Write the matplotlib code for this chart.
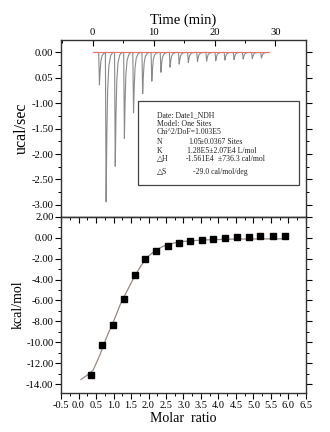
import matplotlib.pyplot as plt
import numpy as np
from matplotlib.ticker import MultipleLocator

plt.rcParams['font.family'] = ['Liberation Serif', 'DejaVu Sans']

# raw thermogram: injection peaks (time of minimum, depth in ucal/sec)
peak_times = [1.1, 2.2, 3.7, 5.2, 6.7, 8.2, 9.7, 11.2, 12.7, 14.2,
              15.7, 17.2, 18.7, 20.2, 21.7, 23.2, 24.7, 26.2, 27.7]
peak_depths = [0.64, 2.94, 2.24, 1.69, 1.19, 0.81, 0.565, 0.39, 0.29, 0.23,
               0.20, 0.18, 0.17, 0.16, 0.15, 0.14, 0.13, 0.12, 0.11]
# peak shape (offset in min, fraction of depth)
shape_dt = [-0.12, 0.0, 0.12, 0.25, 0.45, 0.75, 1.1]
shape_frac = [0.0, 1.0, 0.55, 0.25, 0.09, 0.02, 0.0]
baseline_t = [0.0, 28.9]

# integrated heats
molar = [0.36, 0.67, 0.98, 1.29, 1.60, 1.91, 2.22, 2.55, 2.87, 3.19,
         3.52, 3.85, 4.19, 4.53, 4.86, 5.20, 5.55, 5.90]
heat = [-13.14, -10.25, -8.38, -5.87, -3.59, -2.06, -1.27, -0.76, -0.48, -0.29,
        -0.19, -0.13, -0.03, 0.03, 0.06, 0.13, 0.19, 0.19]
fit_x = [0.07, 0.25, 0.42, 0.61, 0.81, 1.0, 1.19, 1.38, 1.6, 1.8,
         2.0, 2.2, 2.4, 2.6, 2.9, 3.5, 4.4, 5.9]
fit_y = [-13.56, -13.15, -12.66, -11.22, -9.46, -8.02, -6.41, -5.13, -3.7, -2.6,
         -1.75, -1.2, -0.85, -0.6, -0.38, -0.22, -0.13, -0.1]

top_ticks = [0.0, -0.5, -1.0, -1.5, -2.0, -2.5, -3.0]
top_labels = ['0.00', '0.05', '-1.00', '-1.50', '-2.00', '-2.50', '-3.00']

fig = plt.figure(figsize=(3.3, 4.32), dpi=100)
ax1 = fig.add_axes([0.185, 0.498, 0.742, 0.409])
ax2 = fig.add_axes([0.185, 0.090, 0.742, 0.408])

# build the trace from the peak list
t = [0.5]
y = [0.0]
for pt, pd in zip(peak_times, peak_depths):
    for dt, fr in zip(shape_dt, shape_frac):
        t.append(pt + dt)
        y.append(-pd * fr)
t.append(28.9)
y.append(0.0)
ax1.plot(t, y, color='#8a8a8a', lw=0.8)
ax1.plot(baseline_t, [0, 0], color='#e8706a', lw=0.8)

ax1.set_xlim(-5.2, 35)
ax1.set_ylim(-3.236, 0.242)
ax1.xaxis.tick_top()
ax1.xaxis.set_label_position('top')
ax1.set_xticks([0, 10, 20, 30])
ax1.xaxis.set_minor_locator(MultipleLocator(5))
ax1.set_xlabel('Time (min)', fontsize=10.5, labelpad=3)
ax1.set_yticks(top_ticks)
ax1.set_yticklabels(top_labels)
ax1.yaxis.set_minor_locator(MultipleLocator(0.25))
ax1.set_ylabel('ucal/sec', fontsize=11.5, labelpad=1)
ax1.tick_params(axis='x', which='both', direction='in', top=True, bottom=False,
                labelsize=7.7, pad=2)
ax1.tick_params(axis='y', which='both', direction='out', left=True, right=True,
                labelsize=7.7, pad=1.5)
ax1.tick_params(which='major', length=4, width=0.8)
ax1.tick_params(which='minor', length=2.5, width=0.7)

# fit parameters box
box = plt.Rectangle((0.313, 0.183), 0.66, 0.472, transform=ax1.transAxes,
                    fill=False, edgecolor='#444444', lw=0.9)
ax1.add_patch(box)
fs = 5.6
rows = [
    (0.576, [(0.391, 'Date: Date1_NDH')]),
    (0.525, [(0.391, 'Model: One Sites')]),
    (0.481, [(0.391, 'Chi^2/DoF=1.003E5')]),
    (0.421, [(0.391, 'N'), (0.518, '1.05'), (0.567, '±0.0367 Sites')]),
    (0.374, [(0.391, 'K'), (0.515, '1.28E5±2.07E4 L/mol')]),
    (0.325, [(0.391, '△H'), (0.508, '-1.561E4'), (0.641, '±736.3 cal/mol')]),
    (0.253, [(0.391, '△S'), (0.538, '-29.0 cal/mol/deg')]),
]
for yy, items in rows:
    for xx, s in items:
        ax1.text(xx, yy, s, transform=ax1.transAxes, fontsize=fs,
                 va='center', ha='left', color='#222222')

# integrated heat panel
ax2.plot(fit_x, fit_y, color='#9a8880', lw=0.9)
ax2.plot(molar, heat, 's', color='black', markersize=5)
ax2.set_xlim(-0.5, 6.5)
ax2.set_ylim(-14.87, 2.0)
ax2.set_xticks(np.arange(-0.5, 6.51, 0.5))
ax2.set_xticklabels(['%.1f' % v for v in np.arange(-0.5, 6.51, 0.5)])
ax2.xaxis.set_minor_locator(MultipleLocator(0.25))
ax2.set_yticks(np.arange(2, -14.1, -2))
ax2.set_yticklabels(['%.2f' % v for v in np.arange(2, -14.1, -2)])
ax2.yaxis.set_minor_locator(MultipleLocator(1))
ax2.set_xlabel('Molar  ratio', fontsize=10, labelpad=1)
ax2.set_ylabel('kcal/mol', fontsize=10, labelpad=1)
ax2.tick_params(axis='x', which='both', direction='out', bottom=True, top=False,
                labelsize=7.5, pad=2)
ax2.tick_params(axis='y', which='both', direction='out', left=True, right=True,
                labelsize=7.7, pad=1.5)
ax2.tick_params(which='major', length=4, width=0.8)
ax2.tick_params(which='minor', length=2.5, width=0.7)
# inward ticks along the shared edge
sec = ax2.secondary_xaxis('top')
sec.set_xticks(np.arange(-0.5, 6.51, 0.5))
sec.xaxis.set_minor_locator(MultipleLocator(0.25))
sec.tick_params(which='both', direction='in', labeltop=False)
sec.tick_params(which='major', length=4, width=0.8)
sec.tick_params(which='minor', length=2.5, width=0.7)

for ax in (ax1, ax2):
    for sp in ax.spines.values():
        sp.set_linewidth(1.0)
        sp.set_color('#333333')

plt.savefig('out.png', dpi=100)
